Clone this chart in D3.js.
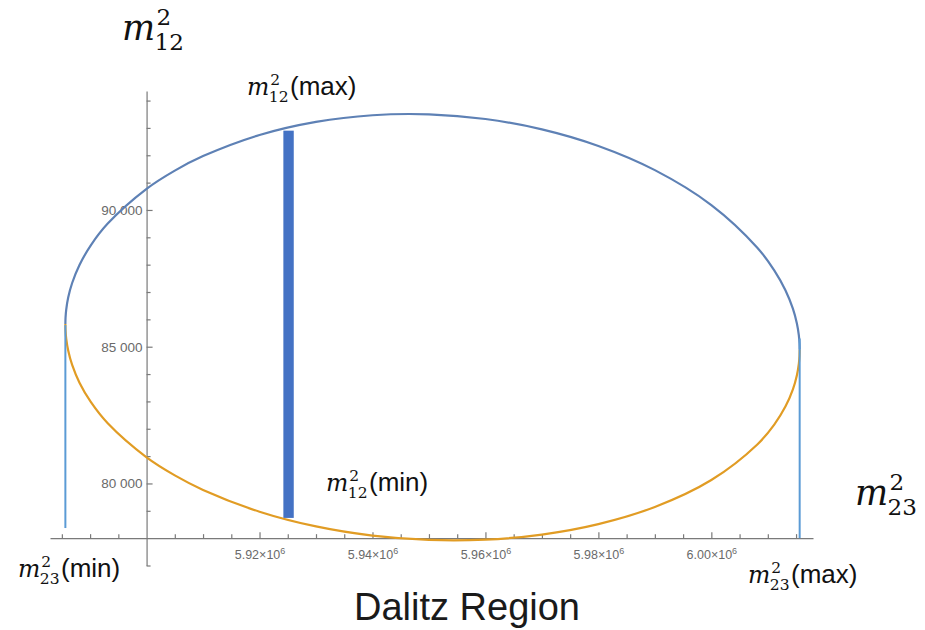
<!DOCTYPE html>
<html>
<head>
<meta charset="utf-8">
<script src="https://cdn.jsdelivr.net/npm/d3@7"></script>
<style>
  html, body { margin: 0; padding: 0; background: #fff; }
  svg { display: block; }
</style>
</head>
<body>
<svg id="chart" width="925" height="630"></svg>
<script>
// Dalitz boundary: m23^2 samples with the upper (max) and lower (min) m12^2 edges
const m23sq = [5885622, 5885652, 5885772, 5886122, 5886822, 5888122, 5890122, 5893122,
  5900000, 5905000, 5910000, 5920000, 5930000, 5940000, 5950000, 5960000, 5970000,
  5980000, 5990000, 6000000, 6008139, 6011139, 6013139, 6014439, 6015139, 6015489,
  6015609, 6015639];
const m12sqMax = [85827, 86065, 86360, 86799, 87330, 87988, 88706, 89501,
  90771, 91438, 91969, 92741, 93221, 93464, 93496, 93325, 92948,
  92341, 91457, 90181, 88622, 87793, 87057, 86390, 85858, 85421,
  85129, 84894];
const m12sqMin = [85827, 85589, 85296, 84859, 84333, 83684, 82979, 82199,
  80955, 80296, 79765, 78967, 78428, 78093, 77935, 77946, 78132,
  78514, 79140, 80126, 81425, 82153, 82820, 83441, 83949, 84374,
  84661, 84894];

// slice at fixed m23^2 between m12^2(min) and m12^2(max)
const sliceM23 = [5924220, 5926060];
const sliceM12 = [78740, 92900];

// m23^2(min) and m23^2(max) markers
const edgeM23 = [5885622, 6015639];
const edgeTop = [85790, 85300];
const edgeBottom = [78370, 78000];

// axis ticks
const xMajorTicks = [5.92e6, 5.94e6, 5.96e6, 5.98e6, 6.00e6];
const xMajorLabels = ["5.92", "5.94", "5.96", "5.98", "6.00"];
const xMinorTicks = d3.range(5885000, 6015001, 5000);
const yMajorTicks = [80000, 85000, 90000];
const yMajorLabels = ["80 000", "85 000", "90 000"];
const yMinorTicks = d3.range(77000, 94001, 1000);

const originX = 5.9e6, originY = 78000;

const svg = d3.select("#chart");
const x = d3.scaleLinear().domain([5.8829e6, 6.018e6]).range([50, 813]);
const y = d3.scaleLinear().domain([77000, 94350]).range([565.5, 91]);

const axisColor = "#7a7a7a";
const labelColor = "#6a6a6a";

// ---- axes ----
const gx = svg.append("g").attr("transform", `translate(0,${y(originY)})`);
gx.call(d3.axisBottom(x).tickValues(xMinorTicks.filter(v => !xMajorTicks.includes(v) && v !== originX))
  .tickSizeInner(-4).tickSizeOuter(0).tickFormat(""));
const gxMajor = svg.append("g").attr("transform", `translate(0,${y(originY)})`);
gxMajor.call(d3.axisBottom(x).tickValues(xMajorTicks).tickSizeInner(-6).tickSizeOuter(0)
  .tickPadding(12).tickFormat(""));
gxMajor.select(".domain").remove();

const gy = svg.append("g").attr("transform", `translate(${x(originX)},0)`);
gy.call(d3.axisLeft(y).tickValues(yMinorTicks.filter(v => !yMajorTicks.includes(v) && v !== originY))
  .tickSizeInner(-4).tickSizeOuter(0).tickFormat(""));
const gyMajor = svg.append("g").attr("transform", `translate(${x(originX)},0)`);
gyMajor.call(d3.axisLeft(y).tickValues(yMajorTicks).tickSizeInner(-6).tickSizeOuter(0)
  .tickPadding(4).tickFormat((d, i) => yMajorLabels[i]));
gyMajor.select(".domain").remove();

svg.selectAll(".domain, .tick line").attr("stroke", axisColor).attr("stroke-width", 1.2);

gyMajor.selectAll(".tick text")
  .attr("fill", labelColor)
  .style("font", "13.5px 'Liberation Sans', Arial, sans-serif");

// x tick labels in scientific form: mantissa × 10^6
gxMajor.selectAll(".tick").each(function (d, i) {
  const t = d3.select(this).append("text")
    .attr("y", 21).attr("text-anchor", "middle")
    .attr("fill", labelColor)
    .style("font", "12.5px 'Liberation Sans', Arial, sans-serif");
  t.append("tspan").text(xMajorLabels[i] + "\u00d710");
  t.append("tspan").attr("dy", -5).style("font-size", "9px").text("6");
});

// ---- boundary curves ----
const pts = (vals) => m23sq.map((s, i) => [s, vals[i]]);
const line = d3.line().x(d => x(d[0])).y(d => y(d[1])).curve(d3.curveCatmullRom.alpha(0.5));

svg.append("path").datum(pts(m12sqMin))
  .attr("d", line).attr("fill", "none")
  .attr("stroke", "#e19c24").attr("stroke-width", 2.2);
svg.append("path").datum(pts(m12sqMax))
  .attr("d", line).attr("fill", "none")
  .attr("stroke", "#5e81b5").attr("stroke-width", 2.2);

// ---- m23^2 limits ----
svg.selectAll(".edge").data(edgeM23).join("line")
  .attr("class", "edge")
  .attr("x1", d => x(d)).attr("x2", d => x(d))
  .attr("y1", (d, i) => y(edgeTop[i])).attr("y2", (d, i) => y(edgeBottom[i]))
  .attr("stroke", "#5b9bd5").attr("stroke-width", 2);

// ---- slice bar ----
svg.append("rect")
  .attr("x", x(sliceM23[0])).attr("width", x(sliceM23[1]) - x(sliceM23[0]))
  .attr("y", y(sliceM12[1])).attr("height", y(sliceM12[0]) - y(sliceM12[1]))
  .attr("fill", "#4472c4");

// ---- math labels: m with superscript 2 and a two-digit subscript, in one text element ----
function mathLabel(px, py, size, sub, suffix, suffixSize) {
  const s = size * 0.66;
  const t = svg.append("text").attr("x", px).attr("y", py).attr("fill", "#111");
  const m = t.append("tspan")
    .style("font", `italic ${size}px 'DejaVu Serif', serif`).text("m");
  const w = m.node().getComputedTextLength();
  t.append("tspan").attr("x", px + w + size * 0.04).attr("y", py - size * 0.42)
    .style("font", `${s}px 'DejaVu Serif', serif`).text("2");
  const subT = t.append("tspan").attr("x", px + w - size * 0.02).attr("y", py + size * 0.28)
    .style("font", `${s}px 'DejaVu Serif', serif`).text(sub);
  if (suffix) {
    const sw = subT.node().getComputedTextLength();
    t.append("tspan").attr("x", px + w + sw + size * 0.04).attr("y", py)
      .style("font", `${suffixSize}px 'Liberation Sans', Arial, sans-serif`)
      .text(suffix);
  }
}

mathLabel(122, 40, 35, "12");
mathLabel(855, 505, 35, "23");
mathLabel(247, 95, 23.5, "12", "(max)", 26);
mathLabel(326, 491, 23.5, "12", "(min)", 26);
mathLabel(18, 577, 23.5, "23", "(min)", 26);
mathLabel(748, 583, 23.5, "23", "(max)", 26);

// ---- title ----
svg.append("text")
  .attr("x", 467).attr("y", 620).attr("text-anchor", "middle")
  .style("font", "300 38px 'Liberation Sans', Arial, sans-serif")
  .attr("fill", "#1a1a1a")
  .text("Dalitz Region");
</script>
</body>
</html>
